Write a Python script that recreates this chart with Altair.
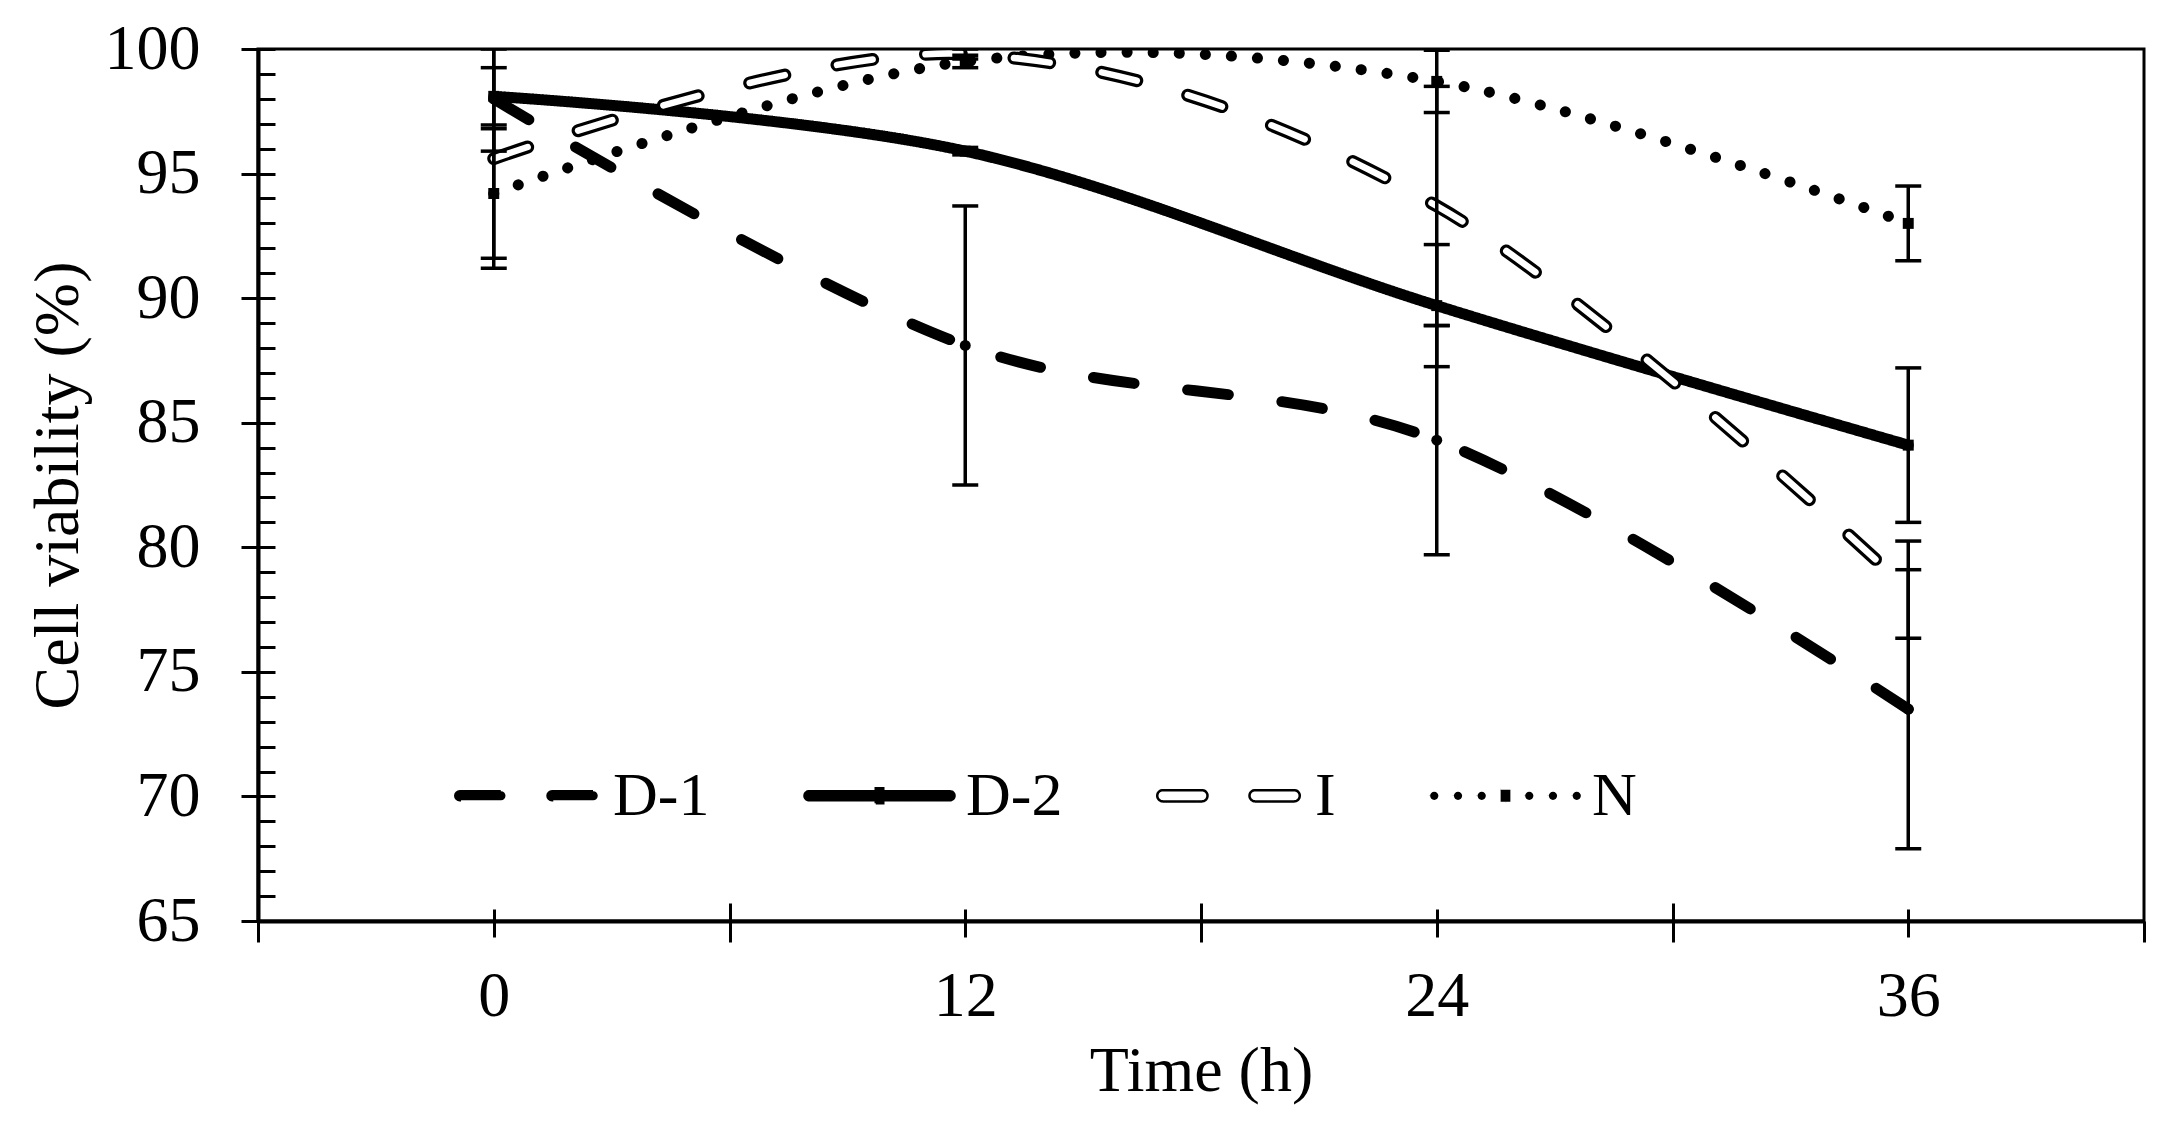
import altair as alt
import pandas as pd

times = [0, 12, 24, 36]
series = ["D-1", "D-2", "I", "N"]
d1_vals = [98.0, 88.1, 84.3, 73.5]
d1_err = [2.1, 5.6, 4.6, 5.6]
d2_vals = [98.1, 95.9, 89.7, 84.1]
d2_err = [1.15, 0.15, 2.45, 3.1]
i_vals = [95.6, 99.8, 93.7, 78.3]
i_err = [4.4, 0.2, 4.8, 1.95]
n_vals = [94.2, 99.5, 98.7, 93.0]
n_err = [2.6, 0.25, 1.25, 1.5]

x_label_ticks = [0, 12, 24, 36]
x_mid_ticks = [-6, 6, 18, 30, 42]
y_major_ticks = [65, 70, 75, 80, 85, 90, 95, 100]
y_minor_ticks = list(range(66, 101))

rows = []
for name, vals, errs in [("D-1", d1_vals, d1_err), ("D-2", d2_vals, d2_err),
                         ("I", i_vals, i_err), ("N", n_vals, n_err)]:
    for t, v, e in zip(times, vals, errs):
        rows.append({"time": t, "series": name, "value": v, "lo": v - e, "hi": v + e})
df = pd.DataFrame(rows)

FONT = "Liberation Serif"
FS = 64

xscale = alt.Scale(domain=[-6, 42], nice=False, zero=False)
yscale = alt.Scale(domain=[65, 100], nice=False, zero=False)


def xax(**kw):
    base = dict(orient="bottom", grid=False, title=None, labels=False, domain=False,
                tickColor="black", tickWidth=3)
    base.update(kw)
    return alt.Axis(**base)


def yax(**kw):
    base = dict(orient="left", grid=False, title=None, labels=False, domain=False,
                tickColor="black", tickWidth=3)
    base.update(kw)
    return alt.Axis(**base)


# legend symbol shapes (unit square, scaled by sqrt(symbolSize)/2 = 75 px)
def capsule(x0, x1, h):
    a, b = x0 + h, x1 - h
    return (f"M{a:.4f},{-h:.4f} L{b:.4f},{-h:.4f} A{h:.4f},{h:.4f} 0 0 1 {b:.4f},{h:.4f} "
            f"L{a:.4f},{h:.4f} A{h:.4f},{h:.4f} 0 0 1 {a:.4f},{-h:.4f} Z")


def dot(cx, r):
    return (f"M{cx - r:.4f},0 A{r:.4f},{r:.4f} 0 1 0 {cx + r:.4f},0 "
            f"A{r:.4f},{r:.4f} 0 1 0 {cx - r:.4f},0 Z")


def square(cx, hw, hh):
    return f"M{cx - hw:.4f},{-hh:.4f} L{cx + hw:.4f},{-hh:.4f} L{cx + hw:.4f},{hh:.4f} L{cx - hw:.4f},{hh:.4f} Z"


p_d1 = capsule(-0.95, -0.28, 0.06) + " " + capsule(0.28, 0.95, 0.06)
p_d2 = capsule(-1.0, 1.0, 0.06) + " " + square(0.0, 0.05, 0.1)
p_i = capsule(-0.95, -0.28, 0.075) + " " + capsule(0.28, 0.95, 0.075)
p_n = " ".join(dot(c, 0.055) for c in [-0.95, -0.633, -0.317, 0.317, 0.633, 0.95]) + " " + square(0.0, 0.065, 0.08)

shape_expr = ("datum.value === 'D-1' ? '" + p_d1 + "' : datum.value === 'D-2' ? '" + p_d2 +
              "' : datum.value === 'I' ? '" + p_i + "' : '" + p_n + "'")

legend = alt.Legend(
    orient="none", legendX=192, legendY=670, direction="horizontal", title=None,
    symbolType=alt.ExprRef(expr=shape_expr), symbolSize=22500, symbolStrokeWidth=2.5,
    symbolStrokeColor="black",
    symbolFillColor=alt.ExprRef(expr="datum.value === 'I' ? 'white' : 'black'"),
    labelFont=FONT, labelFontSize=62, labelColor="black",
    columnPadding=89, labelOffset=10, padding=0, rowPadding=0,
)

base = alt.Chart(df)

lines = base.transform_filter(alt.datum.series != "I").mark_line(
    interpolate="cardinal", clip=True, strokeCap="round", color="black", strokeWidth=11).encode(
    x=alt.X("time:Q", scale=xscale,
            axis=xax(values=x_label_ticks, labels=True, tickSize=16, domain=True,
                     domainColor="black", domainWidth=4, labelFont=FONT, labelFontSize=FS,
                     labelColor="black", labelBaseline="middle", labelPadding=59,
                     title="Time (h)", titleFont=FONT, titleFontSize=FS, titleColor="black",
                     titleFontWeight="normal", titleY=150, titleBaseline="middle")),
    y=alt.Y("value:Q", scale=yscale,
            axis=yax(values=y_major_ticks, labels=True, tickSize=17, domain=True,
                     domainColor="black", domainWidth=4, labelFont=FONT, labelFontSize=FS,
                     labelColor="black", labelPadding=41,
                     title="Cell viability (%)", titleFont=FONT, titleFontSize=FS,
                     titleColor="black", titleFontWeight="normal", titleX=-200, titleY=436,
                     titleAngle=-90, titleBaseline="middle", titleAlign="center")),
    strokeDash=alt.StrokeDash("series:N", scale=alt.Scale(
        domain=series, range=[[41, 54], [1, 0], [1, 0], [0.1, 26]]), legend=legend),
    detail="series:N",
)

i_data = base.transform_filter(alt.datum.series == "I")

i_outer = i_data.mark_line(
    interpolate="cardinal", clip=True, strokeCap="round", color="black",
    strokeWidth=13, strokeDash=[36, 53]).encode(
    x=alt.X("time:Q", scale=xscale, axis=None),
    y=alt.Y("value:Q", scale=yscale, axis=None),
)

i_inner = i_data.mark_line(
    interpolate="cardinal", clip=True, strokeCap="round", color="white",
    strokeWidth=6.5, strokeDash=[36, 53]).encode(
    x=alt.X("time:Q", scale=xscale, axis=xax(values=x_mid_ticks, tickSize=21)),
    y=alt.Y("value:Q", scale=yscale, axis=yax(values=y_minor_ticks, tickSize=17, offset=-17)),
)

rules = base.mark_rule(color="black", strokeWidth=3.5, clip=True).encode(
    x=alt.X("time:Q", scale=xscale, axis=xax(values=x_label_ticks, tickSize=12, offset=-12)),
    y=alt.Y("lo:Q", scale=yscale, axis=None),
    y2="hi:Q",
)

caps_lo = base.mark_tick(orient="horizontal", size=26, thickness=3.5, color="black",
                         clip=True, opacity=1).encode(
    x=alt.X("time:Q", scale=xscale, axis=xax(values=[6, 18, 30], tickSize=18, offset=-18)),
    y=alt.Y("lo:Q", scale=yscale, axis=None),
)

caps_hi = base.mark_tick(orient="horizontal", size=26, thickness=3.5, color="black",
                         clip=True, opacity=1).encode(
    x=alt.X("time:Q", scale=xscale, axis=None),
    y=alt.Y("hi:Q", scale=yscale, axis=None),
)

points = base.transform_filter(alt.datum.series != "I").mark_point(
    filled=True, color="black", size=120, opacity=1, clip=True).encode(
    x=alt.X("time:Q", scale=xscale, axis=None),
    y=alt.Y("value:Q", scale=yscale, axis=None),
    shape=alt.Shape("series:N", scale=alt.Scale(domain=["D-1", "D-2", "N"],
                                                range=["circle", "square", "square"]),
                    legend=None),
)

chart = alt.layer(lines, i_outer, i_inner, rules, caps_lo, caps_hi, points).resolve_axis(
    x="independent", y="independent"
).properties(
    width=1886, height=872,
    autosize=alt.AutoSizeParams(type="none"),
    padding={"left": 250, "top": 41, "right": 19, "bottom": 206},
    background="white",
).configure_view(stroke="black", strokeWidth=3)

chart.save("out.html", embed_options={"renderer": "svg", "actions": False})
